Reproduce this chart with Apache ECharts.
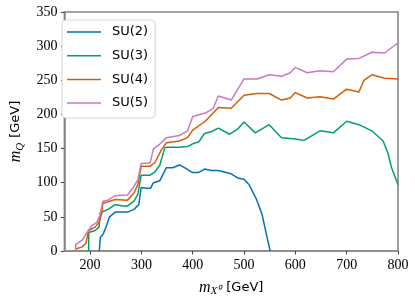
<!DOCTYPE html>
<html>
<head>
<meta charset="utf-8">
<script src="https://cdn.jsdelivr.net/npm/echarts@6/dist/echarts.min.js"></script>
<style>
html,body{margin:0;padding:0;background:#fff;}
#c{width:415px;height:302px;}
</style>
</head>
<body>
<div id="c"></div>
<script>
var seriesNames = ['SU(2)', 'SU(3)', 'SU(4)', 'SU(5)'];
var xTicks = [200, 300, 400, 500, 600, 700, 800];

var xSU2 = [218, 220, 225.7, 232, 238, 249, 273, 285.6, 295, 299.5, 311, 318, 323.5, 336, 348.7, 361, 374, 386.6, 399, 412, 423, 437, 450, 475, 487.5, 500, 510, 524, 535, 544, 551];
var ySU2 = [0, 20, 25, 37, 50, 57, 57, 61, 68, 93, 92, 92, 100, 103, 122, 122, 126, 121, 115, 115, 120, 118, 118, 113, 107, 105, 97, 76, 54, 23, 0];

var xSU3 = [197.3, 197.5, 210, 217.5, 220, 235, 249, 263.6, 273, 285.6, 293, 299.5, 317, 326.7, 336, 345.6, 350, 375, 390, 400, 412, 423, 437, 450, 472, 487, 500, 522, 549, 573, 600, 617, 648, 674, 700, 724, 749, 771, 781, 787, 800];
var ySU3 = [0, 27, 30, 35, 56, 61, 68, 66, 66, 73, 83, 111, 111, 116, 126, 151, 152, 152, 153, 157, 160, 172, 175, 180, 171, 178, 189, 173, 185, 166, 164, 162, 176, 173, 190, 185, 176, 161, 142, 123, 97];

var xSU4 = [172, 172, 184.7, 192, 197, 210, 217.5, 222.5, 225, 235, 249, 273, 285.6, 293, 299.5, 317, 326.7, 339, 349, 374, 390, 400, 424.5, 450, 475, 500, 525, 549, 573, 590, 600, 623, 648, 674, 700, 724, 733.6, 749, 774, 800];
var ySU4 = [0, 3, 6, 11, 30, 35, 42, 54, 70, 72, 75.5, 74.5, 85, 97, 124, 124, 130, 148, 158.5, 161, 166, 177, 190, 210, 209, 228, 230.6, 230.6, 221, 224, 232, 224, 226, 222.5, 237, 233, 250, 258, 253, 252];

var xSU5 = [172, 172, 184.7, 194, 203.6, 213, 219, 225, 235, 249, 273, 285.6, 293, 299.5, 317, 323.5, 336, 349, 374, 390, 400, 424.5, 440, 450, 475, 500, 525, 549, 573, 590, 600, 623, 648, 674, 700, 724, 749, 774, 800];
var ySU5 = [0, 9.5, 16, 27, 37, 42, 51.6, 73, 74.5, 81, 82, 94.5, 104, 128, 129, 149.5, 156.6, 166, 169, 176, 197, 202, 209, 227, 221, 252, 252, 258, 256, 261, 269, 261, 264, 262.6, 281, 282, 291, 290, 305];

var colors = ['#0173b2', '#029e73', '#d55e00', '#cc78bc'];

function pairs(xs, ys) {
  return xs.map(function (x, i) { return [x, ys[i]]; });
}
var allData = [pairs(xSU2, ySU2), pairs(xSU3, ySU3), pairs(xSU4, ySU4), pairs(xSU5, ySU5)];

var chart = echarts.init(document.getElementById('c'), null, {renderer: 'canvas'});

var serif = 'Liberation Serif';
var sans = 'DejaVu Sans';

var nameRich = {
  m: {fontFamily: serif, fontStyle: 'italic', fontSize: 16, color: '#000'},
  sub: {fontFamily: serif, fontStyle: 'italic', fontSize: 11, color: '#000', verticalAlign: 'bottom', padding: [8, 0, 0, 0]},
  u: {fontFamily: sans, fontSize: 13, color: '#000', padding: [0, 0, 0, 5]}
};

// thin line legend icon: tiny corner marks fix the box, a 1.5px bar in the middle
var lineIcon = 'path://M0,0L0.01,0L0,0.01Z M34,14L33.99,14L34,13.99Z M0,6.25L34,6.25L34,7.75L0,7.75Z';

chart.setOption({
  animation: false,
  color: colors,
  grid: {
    left: 55, right: 17, top: 12, bottom: 46,
    show: true, borderColor: '#888', borderWidth: 1.6, backgroundColor: 'transparent'
  },
  legend: {
    orient: 'vertical',
    left: 62, top: 20,
    data: seriesNames.map(function (n) { return {name: n, icon: lineIcon}; }),
    itemWidth: 34, itemHeight: 14, itemGap: 9.7,
    padding: [5, 7, 8, 5],
    backgroundColor: '#fff',
    borderColor: '#d5d5d5', borderWidth: 1, borderRadius: 4,
    textStyle: {fontFamily: sans, fontSize: 13, color: '#000', padding: [0, 0, 0, 6]}
  },
  xAxis: {
    type: 'value', min: 150, max: 800,
    name: '{m|m}{sub|X⁰}{u|[GeV]}',
    nameLocation: 'middle', nameGap: 27,
    nameTextStyle: {rich: nameRich},
    axisLine: {show: true, lineStyle: {color: '#888', width: 1.6}},
    axisTick: {show: true, length: 3.5, lineStyle: {color: '#444', width: 1}, customValues: xTicks},
    axisLabel: {fontFamily: serif, fontSize: 14, color: '#000', margin: 7, customValues: xTicks},
    splitLine: {show: false}
  },
  yAxis: {
    type: 'value', min: 0, max: 350, interval: 50,
    name: '{m|m}{sub|Q}{u|[GeV]}',
    nameLocation: 'middle', nameGap: 38, nameRotate: 90,
    nameTextStyle: {rich: nameRich},
    axisLine: {show: true, lineStyle: {color: '#888', width: 1.6}},
    axisTick: {show: true, length: 3.5, lineStyle: {color: '#444', width: 1}},
    axisLabel: {fontFamily: serif, fontSize: 14, color: '#000', margin: 7},
    splitLine: {show: false}
  },
  series: seriesNames.map(function (n, i) {
    return {
      name: n, type: 'line', data: allData[i],
      showSymbol: false, symbol: 'none',
      lineStyle: {width: 1.5, color: colors[i]},
      itemStyle: {color: colors[i]},
      z: 2 + i
    };
  })
});
</script>
</body>
</html>
